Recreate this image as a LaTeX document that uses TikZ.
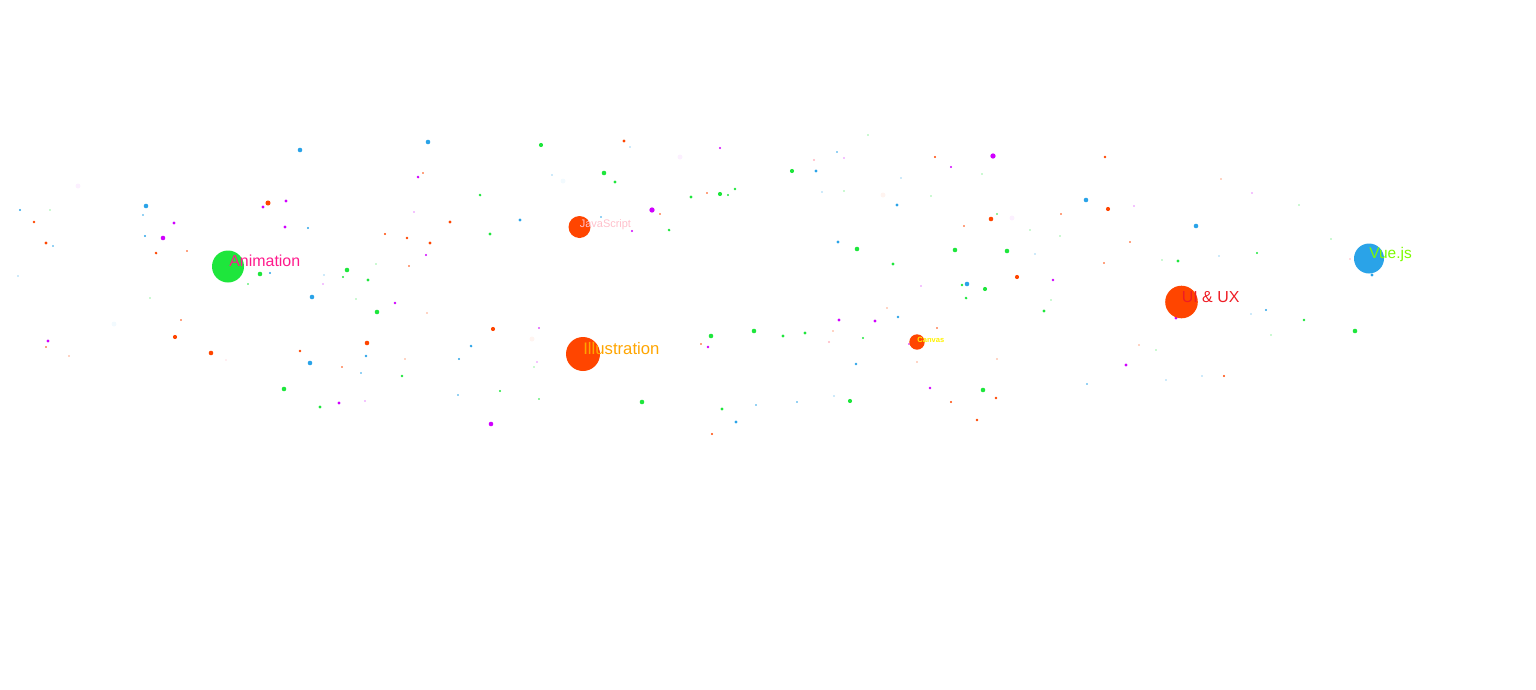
\documentclass[tikz,border=0pt]{standalone}
\usepackage{fontspec}
\setmainfont{Liberation Sans}
\usepackage{tikz}
\usetikzlibrary{calc}
\definecolor{dotgreen}{HTML}{1EE63C}
\definecolor{dotorange}{HTML}{FF4500}
\definecolor{dotblue}{HTML}{2AA3E8}
\definecolor{dotmagenta}{HTML}{D000FF}
\definecolor{dotpink}{HTML}{FFB6C1}
\definecolor{lblanim}{HTML}{FF1A8C}
\definecolor{lbljs}{HTML}{FFC0CB}
\definecolor{lblillu}{HTML}{FFA500}
\definecolor{lblcanvas}{HTML}{FFF200}
\definecolor{lbluiux}{HTML}{EE1C24}
\definecolor{lblvue}{HTML}{7CFC00}

\begin{document}
\begin{tikzpicture}[x=0.02cm,y=-0.02cm,
  lbl/.style={anchor=base west, inner sep=0pt},
  faint/.style={opacity=0.06}]
\useasboundingbox (0,0) rectangle (1536,690);
\def\DOT{1.15}
% small dots
\foreach \p/\q/\r in {268/203/2.2, 34/222/1.2, 46/243/1.5, 156/253/1.3, 187/251/0.8, 385/234/1, 181/320/0.8, 46/347/0.7, 69/356/0.6, 175/337/1.8, 211/353/2, 367/343/2, 300/351/1.2, 342/367/0.7, 423/173/0.8, 624/141/1.5, 660/214/0.8, 707/193/0.7, 450/222/1.5, 407/238/1.2, 430/243/1.5, 409/266/0.7, 427/313/0.6, 493/329/1.8, 405/359/0.6, 701/344/0.7, 712/434/0.9, 935/157/1, 1105/157/1.2, 1108/209/1.8, 991/219/2, 1061/214/0.7, 964/226/0.7, 1130/242/0.8, 1104/263/0.7, 1017/277/1.8, 887/308/0.6, 937/328/0.7, 833/331/0.6, 917/362/0.6, 997/359/0.6, 996/398/1.2, 951/402/1, 977/420/1.2, 1224/376/1, 1139/345/0.6, 1221/179/0.6}
  \fill[dotorange] (\p,\q) circle[radius=\DOT*\r];
\foreach \p/\q/\r in {300/150/2, 146/206/2, 20/210/1, 143/215/0.8, 145/236/1, 53/246/0.8, 308/228/1, 270/273/1, 18/276/0.6, 324/275/0.6, 312/297/2, 366/356/1.2, 310/363/2, 361/373/0.7, 428/142/2, 630/147/0.6, 552/175/0.6, 520/220/1.5, 601/217/0.7, 471/346/1.3, 459/359/1, 458/395/0.7, 736/422/1.5, 756/405/0.7, 837/152/0.8, 816/171/1.5, 901/178/0.6, 822/192/0.6, 897/205/1.5, 1086/200/2, 838/242/1.5, 1035/254/0.6, 967/284/2, 898/317/1.2, 856/364/1.2, 1087/384/0.7, 797/402/0.7, 834/396/0.6, 1196/226/2, 1219/256/0.6, 1372/275/1.5, 1266/310/1, 1251/314/0.6, 1166/380/0.5, 1202/376/0.5}
  \fill[dotblue] (\p,\q) circle[radius=\DOT*\r];
\foreach \p/\q/\r in {260/274/2, 248/284/0.7, 50/210/0.6, 347/270/2, 343/277/1, 368/280/1.5, 376/264/0.6, 356/299/0.6, 377/312/2, 150/298/0.5, 284/389/2, 320/407/1.5, 541/145/1.8, 604/173/2, 615/182/1.5, 480/195/1.3, 720/194/1.8, 728/195/1, 735/189/1.2, 691/197/1.5, 490/234/1.5, 669/230/1.3, 402/376/1.2, 500/391/1, 534/367/0.6, 539/399/0.7, 642/402/2, 711/336/2, 754/331/2, 722/409/1.5, 868/135/0.6, 792/171/1.8, 982/174/0.6, 844/191/0.6, 931/196/0.5, 997/214/0.7, 1030/230/0.6, 1060/236/0.6, 857/249/2, 955/250/2, 1007/251/2, 893/264/1.5, 962/285/1.2, 985/289/1.8, 966/298/1.3, 1051/300/0.6, 1044/311/1.5, 783/336/1.5, 805/333/1.5, 863/338/1, 1156/350/0.6, 983/390/2, 850/401/1.8, 1299/205/0.6, 1331/239/0.6, 1257/253/1, 1162/260/0.6, 1178/261/1.5, 1304/320/1.2, 1355/331/2, 1271/335/0.6}
  \fill[dotgreen] (\p,\q) circle[radius=\DOT*\r];
\foreach \p/\q/\r in {286/201/1.5, 263/207/1.5, 174/223/1.5, 163/238/2, 285/227/1.5, 323/284/0.6, 395/303/1.2, 48/341/1.5, 339/403/1.5, 365/401/0.6, 720/148/1, 418/177/1.3, 652/210/2.3, 414/212/0.6, 632/231/1, 426/255/1, 539/328/0.7, 537/362/0.6, 708/347/1.2, 491/424/2, 844/158/0.6, 993/156/2.3, 951/167/1, 1134/206/0.6, 1053/280/1.2, 921/286/0.6, 839/320/1.5, 875/321/1.5, 909/344/0.8, 1126/365/1.5, 930/388/1.2, 1176/318/1.5, 1252/193/0.6}
  \fill[dotmagenta] (\p,\q) circle[radius=\DOT*\r];
\foreach \p/\q/\r in {814/160/1, 829/342/1, 1350/259/0.8, 226/360/0.6}
  \fill[dotpink] (\p,\q) circle[radius=\DOT*\r];
\foreach \p/\q/\c in {78/186/dotmagenta, 883/195/dotorange, 532/339/dotorange, 563/181/dotblue, 114/324/dotblue, 1012/218/dotmagenta, 680/157/dotmagenta}
  \fill[\c, faint] (\p,\q) circle[radius=2.5];
% labelled bubbles
\coordinate (anim) at (228,266.5);
\coordinate (js) at (579.5,227);
\coordinate (illu) at (583,354);
\coordinate (canvas) at (917,342);
\coordinate (uiux) at (1181.5,302);
\coordinate (vue) at (1369,258.5);
\fill[dotgreen] (anim) circle[radius=16];
\fill[dotorange] (js) circle[radius=11];
\fill[dotorange] (illu) circle[radius=17];
\fill[dotorange] (canvas) circle[radius=7.7];
\fill[dotorange] (uiux) circle[radius=16.3];
\fill[dotblue] (vue) circle[radius=15];
\node[lbl, text=lblanim, font=\fontsize{9.07}{10}\selectfont] (animlabel) at ([xshift=0.02cm]anim) {Animation};
\node[lbl, text=lbljs, font=\fontsize{6.24}{7}\selectfont] (jslabel) at (js) {JavaScript};
\node[lbl, text=lblillu, font=\fontsize{9.5}{11}\selectfont] (illulabel) at (illu) {Illustration};
\node[lbl, text=lblcanvas, font=\bfseries\fontsize{4.3}{5}\selectfont] (canvaslabel) at (canvas) {Canvas};
\node[lbl, text=lbluiux, font=\fontsize{9.07}{10}\selectfont] (uiuxlabel) at (uiux) {UI \& UX};
\node[lbl, text=lblvue, font=\fontsize{8.8}{10}\selectfont] (vuelabel) at (vue) {Vue.js};
\end{tikzpicture}
\end{document}
